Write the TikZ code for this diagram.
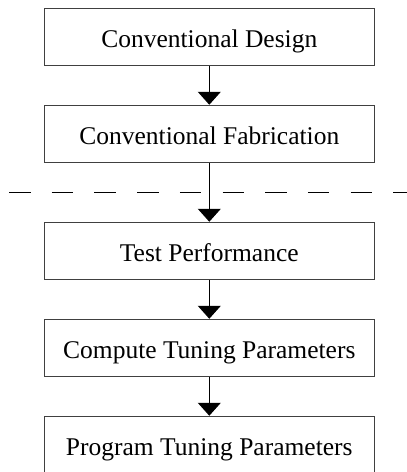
\documentclass[tikz,border=0pt]{standalone}
\usepackage{fontspec}
\setmainfont{Liberation Serif}
\usetikzlibrary{arrows.meta}
\begin{document}
\begin{tikzpicture}[x=1pt,y=-1pt,
  stepbox/.style={draw=black!75, line width=1pt, minimum width=329.5pt, minimum height=57.5pt, inner sep=0pt, text height=20pt, text depth=0pt, font=\fontsize{25.5}{30}\selectfont},
  flow/.style={draw=black, line width=1pt, -{Triangle[width=23pt,length=13pt]}}]
\useasboundingbox (0,0) rectangle (407,472);
\clip (0,0) rectangle (407,472);
\node[stepbox] (a) at (209.3,37) {Conventional Design};
\node[stepbox] (b) at (209.3,134) {Conventional Fabrication};
\node[stepbox] (c) at (209.3,251) {Test Performance};
\node[stepbox] (d) at (209.3,348) {Compute Tuning Parameters};
\node[stepbox] (e) at (209.3,445) {Program Tuning Parameters};
\coordinate (dl) at (9,192.3);
\coordinate (dr) at (407,192.3);
\draw[line width=1.3pt, dash pattern=on 21.5pt off 21.2pt] (dl) -- (dr);
\draw[flow] (a) -- (b);
\draw[flow] (b) -- (c);
\draw[flow] (c) -- (d);
\draw[flow] (d) -- (e);
\end{tikzpicture}
\end{document}
